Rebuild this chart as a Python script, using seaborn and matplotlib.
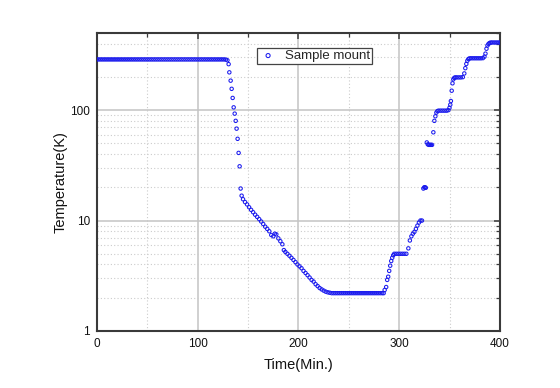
import matplotlib
matplotlib.use('Agg')
import matplotlib.pyplot as plt
import matplotlib.ticker as mticker
import numpy as np
import pandas as pd
import seaborn as sns

# values
# room temperature hold
t_hold = [0, 2, 4, 6, 8, 10, 12, 14, 16, 18, 20, 22, 24, 26, 28, 30, 32, 34, 36, 38,
          40, 42, 44, 46, 48, 50, 52, 54, 56, 58, 60, 62, 64, 66, 68, 70, 72, 74, 76, 78,
          80, 82, 84, 86, 88, 90, 92, 94, 96, 98, 100, 102, 104, 106, 108, 110, 112, 114,
          116, 118, 120, 122, 124, 126, 128]
T_hold = [288, 288, 288, 288, 288, 288, 288, 288, 288, 288, 288, 288, 288, 288, 288, 288,
          288, 288, 288, 288, 288, 288, 288, 288, 288, 288, 288, 288, 288, 288, 288, 288,
          288, 288, 288, 288, 288, 288, 288, 288, 288, 288, 288, 288, 288, 288, 288, 288,
          288, 288, 288, 288, 288, 288, 288, 288, 288, 288, 288, 288, 288, 288, 288, 288, 287]

# fast cool down
t_drop = [129.5, 130.7, 131.4, 132.7, 133.7, 134.7, 135.7, 136.7, 137.7, 138.6, 139.6,
          140.6, 141.6, 142.6]
T_drop = [283, 261, 220, 185, 156, 129, 106, 93, 80, 68, 55, 41, 31, 19.5]

# slow cool down
t_cool = [143.6, 145, 147, 149, 151, 153, 155, 157, 159, 161, 163, 165, 167, 169, 171, 173,
          175, 176.5, 178, 180, 182, 184, 185.5, 187, 189, 191, 193, 195, 197, 199, 201,
          203, 205, 207, 209, 211, 213, 215, 217, 219, 221, 223, 225, 227, 229, 231]
T_cool = [16.8, 15.6, 14.7, 14.0, 13.2, 12.5, 11.9, 11.3, 10.8, 10.3, 9.8, 9.3, 8.8, 8.4,
          8.0, 7.4, 7.2, 7.6, 7.5, 6.9, 6.5, 6.1, 5.4, 5.2, 5.0, 4.8, 4.6, 4.4, 4.2, 4.0,
          3.85, 3.7, 3.5, 3.35, 3.2, 3.05, 2.9, 2.8, 2.65, 2.55, 2.45, 2.38, 2.32, 2.27,
          2.24, 2.22]

# base temperature
t_base = [233, 235, 237, 239, 241, 243, 245, 247, 249, 251, 253, 255, 257, 259, 261, 263,
          265, 267, 269, 271, 273, 275, 277, 279, 281, 283, 284.5]
T_base = [2.2, 2.2, 2.2, 2.2, 2.2, 2.2, 2.2, 2.2, 2.2, 2.2, 2.2, 2.2, 2.2, 2.2, 2.2, 2.2,
          2.2, 2.2, 2.2, 2.2, 2.2, 2.2, 2.2, 2.2, 2.2, 2.2, 2.2]

# stepped warm up
t_warm = [285.5, 287, 288, 289, 290, 291, 292, 293, 294, 295, 297, 299, 301, 303, 305, 307,
          309, 310.5, 312, 313.5, 315, 316.5, 318, 319.5, 321, 322.5,
          323.9, 324.8, 325.6, 326.3,
          327.3, 328.3, 329.3, 330.3, 331.3, 332.5, 333.8, 334.8, 335.8, 336.8, 337.8,
          339, 341, 343, 345, 347, 348.7, 349.8, 350.6, 351.2, 352, 352.8, 353.6, 354.5,
          355.5, 357, 359, 361, 363, 364.5, 365.5, 366.5, 367.5, 368.5, 369.5,
          371, 373, 375, 377, 379, 381, 383, 384.5, 385.5, 386.5, 387.5, 388.5, 389.5,
          390.5, 392, 394, 396, 398, 400]
T_warm = [2.35, 2.5, 2.9, 3.1, 3.5, 3.9, 4.3, 4.6, 4.85, 5.0, 5.0, 5.0, 5.0, 5.0, 5.0, 5.0,
          5.6, 6.6, 7.2, 7.6, 7.9, 8.4, 9.0, 9.6, 10.0, 10.0,
          19.5, 20, 20, 19.8,
          51, 49, 48.5, 48.5, 48.5, 48.5, 63, 80, 88, 95, 98,
          99, 99, 99, 99, 99, 100, 105, 112, 121, 150, 175, 190, 196,
          198, 198, 198, 198, 199, 215, 240, 262, 280, 290, 294,
          295, 295, 295, 295, 295, 295, 296, 305, 325, 360, 385, 398, 405,
          409, 410, 410, 410, 410, 410]

df = pd.DataFrame({
    'time': t_hold + t_drop + t_cool + t_base + t_warm,
    'temp': T_hold + T_drop + T_cool + T_base + T_warm,
})

sns.set_theme(style='white')
plt.rcParams['font.family'] = ['Liberation Sans', 'DejaVu Sans']

fig = plt.figure(figsize=(5.6, 3.88), dpi=100)
ax = fig.add_axes([0.173, 0.147, 0.72, 0.768])

sns.scatterplot(data=df, x='time', y='temp', ax=ax, marker='o', s=6,
                facecolors='none', edgecolor='#1a1aee', linewidth=0.75,
                label='Sample mount', zorder=3)

ax.set_yscale('log')
ax.set_xlim(0, 400)
ax.set_ylim(1, 500)

ax.xaxis.set_major_locator(mticker.MultipleLocator(100))
ax.xaxis.set_minor_locator(mticker.MultipleLocator(50))
ax.yaxis.set_major_locator(mticker.LogLocator(base=10, numticks=10))
ax.yaxis.set_minor_locator(mticker.LogLocator(base=10, subs=np.arange(2, 10), numticks=10))
ax.yaxis.set_major_formatter(mticker.FuncFormatter(lambda v, p: f'{v:g}'))
ax.yaxis.set_minor_formatter(mticker.NullFormatter())

ax.grid(which='major', color='#c4c4c4', linestyle='-', linewidth=1.1)
ax.grid(which='minor', color='#cccccc', linestyle=(0, (1, 2)), linewidth=0.8)
ax.set_axisbelow(True)

for sp in ax.spines.values():
    sp.set_color('#3a3a3a')
    sp.set_linewidth(1.5)

ax.tick_params(which='both', direction='in', top=True, right=True, colors='#3a3a3a',
               labelcolor='#111111', labelsize=8.5)
ax.tick_params(which='major', length=4.5, width=1.1, pad=5)
ax.tick_params(which='minor', length=2.8, width=0.9)

ax.set_xlabel('Time(Min.)', fontsize=10.5, color='#111111', labelpad=6)
ax.set_ylabel('Temperature(K)', fontsize=10.5, color='#111111', labelpad=2)

leg = ax.legend(loc='center', bbox_to_anchor=(0.54, 0.923), fontsize=9.5,
                frameon=True, fancybox=False, framealpha=1, edgecolor='#444444',
                borderpad=0.15, handlelength=1.4, handletextpad=0.6, markerscale=1.2)
leg.get_frame().set_linewidth(0.9)

fig.savefig('out.png', dpi=100)
